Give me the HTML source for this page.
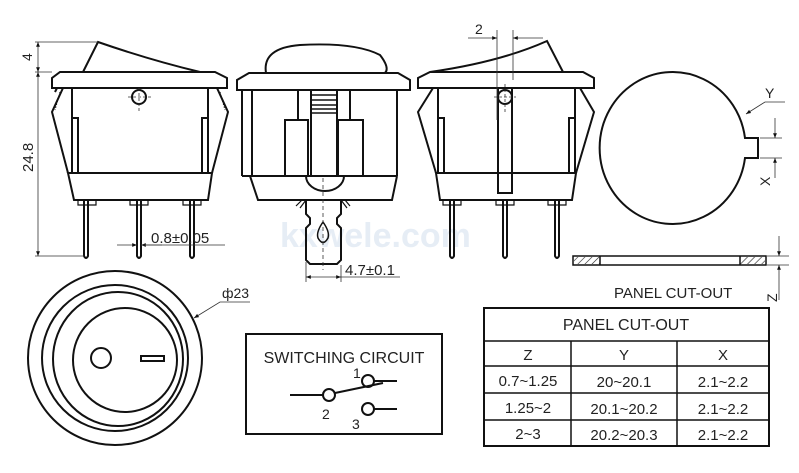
<!DOCTYPE html>
<html><head><meta charset="utf-8"><style>
html,body{margin:0;padding:0;background:#fff;}
svg{display:block;}
text{font-family:"Liberation Sans",sans-serif;fill:#222;}
</style></head><body>
<svg width="799" height="473" viewBox="0 0 799 473" xmlns="http://www.w3.org/2000/svg">
<defs>
<pattern id="h" width="5" height="5" patternUnits="userSpaceOnUse" patternTransform="rotate(45)"><line x1="0" y1="0" x2="0" y2="5" stroke="#222" stroke-width="1.2"/></pattern>
<marker id="a" viewBox="0 0 10 10" refX="10" refY="5" markerWidth="8" markerHeight="6" orient="auto-start-reverse"><path d="M0,1 L10,5 L0,9z" fill="#111"/></marker>
</defs>
<text x="280" y="247" font-size="34" font-weight="bold" style="fill:#e6edf5">kxwele.com</text>
<g fill="none" stroke="#111" stroke-width="2">
<path d="M83,72 L98,42 Q150,60 200,72"/>
<path d="M60,72 L215,72 L227,78 L227,88 L52,88 L52,78 Z"/>
<path d="M72,88 L72,173 M208,88 L208,173"/>
<path d="M72,118 L78,118 L78,173 M208,118 L202,118 L202,173"/>
<path d="M63,88 L52,112 L68,173 M57,88 L55,92 M217,88 L228,112 L212,173"/>
<path d="M60,92 L55,110 M220,92 L225,110" stroke-width="1" stroke-dasharray="1.5,1.5"/>
<path d="M68,173 L212,173 L208,200 L74,200 Z"/>
<path d="M84,200 L84,256 Q86,260 88,256 L88,200 M137,200 L137,256 Q139,260 141,256 L141,200 M190,200 L190,256 Q192,260 194,256 L194,200"/>
<path d="M78,200 L78,205 L96,205 L96,200 M130,200 L130,205 L148,205 L148,200 M183,200 L183,205 L201,205 L201,200" stroke-width="1.2"/>
<circle cx="139" cy="97" r="7"/>
<path d="M266,73 Q262,48 300,45 Q355,42 380,55 Q390,68 385,73"/>
<path d="M249,73 L398,73 L410,80 L410,90 L237,90 L237,80 Z"/>
<path d="M242,90 L242,176 M252,90 L252,176 M397,90 L397,176 M242,176 L397,176"/>
<path d="M298,90 L298,120 M311,90 L311,176 M337,90 L337,176 M350,90 L350,120"/>
<rect x="285" y="120" width="23" height="56"/><rect x="338" y="120" width="25" height="56"/>
<path d="M311,95 H337 M311,100 H337 M311,105 H337 M311,109 H337 M311,113 H337" stroke-width="1.5"/>
<path d="M306,176 A19,15 0 0 0 344,176"/>
<path d="M250,176 L258,200 L392,200 L397,176"/>
<path d="M306,200 L306,214 L310,218 L310,224 L306,228 L306,260 L310,264 L337,264 L341,260 L341,228 L337,224 L337,218 L341,214 L341,200"/>
<path d="M300,208 L306,200 M347,208 L341,200 M296,206 L302,200 M350,206 L345,200" stroke-width="1.2"/>
<path d="M323,222 Q316,232 318,238 Q323,247 328,238 Q330,232 323,222 Z" stroke-width="1.5"/>
<path d="M563,72 L547,41 Q500,62 430,72"/>
<path d="M430,72 L583,72 L594,78 L594,88 L418,88 L418,78 Z"/>
<path d="M438,88 L438,173 M575,88 L575,173"/>
<path d="M438,118 L444,118 L444,173 M575,118 L569,118 L569,173"/>
<path d="M433,88 L418,112 L436,173 M580,88 L594,112 L576,173"/>
<path d="M436,173 L576,173 L572,200 L440,200 Z"/>
<rect x="498" y="88" width="14" height="105"/>
<circle cx="505" cy="97" r="7"/>
<path d="M450,200 L450,256 Q452,260 454,256 L454,200 M503,200 L503,256 Q505,260 507,256 L507,200 M555,200 L555,256 Q557,260 559,256 L559,200"/>
<path d="M443,200 L443,205 L461,205 L461,200 M496,200 L496,205 L514,205 L514,200 M548,200 L548,205 L566,205 L566,200" stroke-width="1.2"/>
<path d="M745,138 A73,76 0 1 0 745,158 L758,158 L758,138 Z" />
<rect x="573" y="256" width="193" height="9" stroke-width="1.5"/>
<rect x="574" y="257" width="26" height="7" fill="url(#h)" stroke="none"/>
<rect x="740" y="257" width="25" height="7" fill="url(#h)" stroke="none"/>
<path d="M600,256 V265 M740,256 V265" stroke-width="1.5"/>
<circle cx="115" cy="358" r="87"/>
<circle cx="115" cy="358" r="73"/>
<ellipse cx="118" cy="359" rx="65" ry="67"/>
<circle cx="125" cy="360" r="52"/>
<circle cx="101" cy="358" r="10"/>
<rect x="141" y="356" width="23" height="5"/>
<rect x="246" y="334" width="196" height="100"/>
<path d="M290,395 L323,395 M335,393 L383,383 M374,381 L397,381 M374,409 L397,409"/>
<circle cx="329" cy="395" r="6"/><circle cx="368" cy="381" r="6"/><circle cx="368" cy="409" r="6"/>
<rect x="484" y="308" width="285" height="138"/>
<path d="M484,341 H769 M484,366 H769 M484,393 H769 M484,420 H769 M571,341 V446 M677,341 V446" stroke-width="1.5"/>
</g>
<g fill="none" stroke="#333" stroke-width="0.8">
<path d="M139,88 V112 M128,97 H152" stroke-dasharray="3,2"/>
<path d="M505,84 V112 M494,97 H516" stroke-dasharray="3,2"/>
<path d="M323,178 V270" stroke-dasharray="4,3"/>
<path d="M35,42 H98 M35,72 H52 M35,256 H84"/>
<path d="M38,42 V72" marker-start="url(#a)" marker-end="url(#a)"/>
<path d="M38,72 V256" marker-start="url(#a)" marker-end="url(#a)"/>
<path d="M117,245 L137,245" marker-end="url(#a)"/><path d="M162,245 L141,245" marker-end="url(#a)"/>
<path d="M141,245 H225"/>
<path d="M306,262 V282 M341,265 V282"/>
<path d="M306,277 L341,277" marker-start="url(#a)" marker-end="url(#a)"/>
<path d="M341,277 H400"/>
<path d="M497,30 V120 M513,30 V80"/>
<path d="M468,38 L497,38" marker-end="url(#a)"/><path d="M543,38 L513,38" marker-end="url(#a)"/>
<path d="M785,102 L765,102 L746,114" marker-end="url(#a)"/>
<path d="M760,138 H782 M760,158 H782"/>
<path d="M775,118 V138" marker-end="url(#a)"/><path d="M775,178 V158" marker-end="url(#a)"/>
<path d="M767,256 H789 M767,265 H789"/>
<path d="M779,236 V256" marker-end="url(#a)"/><path d="M779,300 V265" marker-end="url(#a)"/>
<path d="M250,302 L220,302 L194,318" marker-end="url(#a)"/>
</g>
<text x="0" y="0" font-size="14" transform="translate(32,61) rotate(-90)">4</text>
<text x="0" y="0" font-size="15" transform="translate(33,172) rotate(-90)">24.8</text>
<text x="151" y="243" font-size="15">0.8±0.05</text>
<text x="345" y="275" font-size="15">4.7±0.1</text>
<text x="475" y="34" font-size="14">2</text>
<text x="765" y="98" font-size="14">Y</text>
<text x="0" y="0" font-size="14" transform="translate(770,186) rotate(-90)">X</text>
<text x="0" y="0" font-size="14" transform="translate(777,302) rotate(-90)">Z</text>
<text x="614" y="298" font-size="15">PANEL CUT-OUT</text>
<text x="222" y="298" font-size="14">ф23</text>
<text x="344" y="363" font-size="16" text-anchor="middle">SWITCHING CIRCUIT</text>
<text x="353" y="378" font-size="14">1</text>
<text x="322" y="419" font-size="14">2</text>
<text x="352" y="429" font-size="14">3</text>
<g font-size="15" text-anchor="middle">
<text x="626" y="330" font-size="16">PANEL CUT-OUT</text>
<text x="528" y="360">Z</text><text x="624" y="360">Y</text><text x="723" y="360">X</text>
<text x="528" y="386">0.7~1.25</text><text x="624" y="387">20~20.1</text><text x="723" y="387">2.1~2.2</text>
<text x="528" y="413">1.25~2</text><text x="624" y="414">20.1~20.2</text><text x="723" y="414">2.1~2.2</text>
<text x="528" y="439">2~3</text><text x="624" y="440">20.2~20.3</text><text x="723" y="440">2.1~2.2</text>
</g>
</svg>
</body></html>
